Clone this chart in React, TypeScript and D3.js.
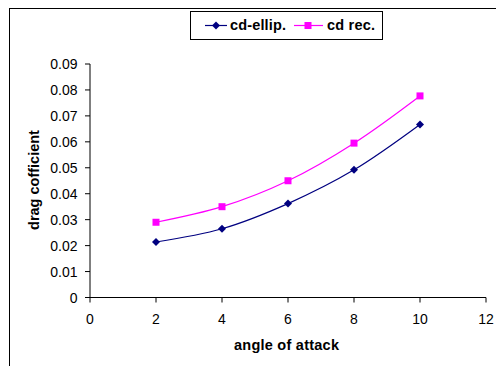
import React from "react";
import * as d3 from "d3";

const angles = [2, 4, 6, 8, 10];
const cdEllip = [0.0214, 0.0265, 0.0362, 0.0492, 0.0667];
const cdRec = [0.029, 0.035, 0.045, 0.0595, 0.0777];
const xTicks = [0, 2, 4, 6, 8, 10, 12];
const yTicks = [0, 0.01, 0.02, 0.03, 0.04, 0.05, 0.06, 0.07, 0.08, 0.09];

export default function App() {
  const W = 496, H = 366;
  const x = d3.scaleLinear().domain([0, 12]).range([90, 486]);
  const y = d3.scaleLinear().domain([0, 0.09]).range([297.5, 64]);
  const line = d3
    .line<[number, number]>()
    .x((d) => x(d[0]))
    .y((d) => y(d[1]))
    .curve(d3.curveCatmullRom.alpha(0.5));
  const eData = angles.map((a, i) => [a, cdEllip[i]] as [number, number]);
  const rData = angles.map((a, i) => [a, cdRec[i]] as [number, number]);
  const font = "Arial, 'Liberation Sans', sans-serif";
  const diamond = (cx: number, cy: number, k: string | number) => (
    <path key={k} d={`M${cx},${cy - 4}L${cx + 4},${cy}L${cx},${cy + 4}L${cx - 4},${cy}Z`} fill="#000080" />
  );
  const square = (cx: number, cy: number, k: string | number) => (
    <rect key={k} x={cx - 3.5} y={cy - 3.5} width={7} height={7} fill="#FF00FF" />
  );
  return (
    <svg width={W} height={H} style={{ position: "absolute", left: 0, top: 0 }} fontFamily={font}>
      <rect x={0} y={0} width={W} height={H} fill="#fff" />
      <line x1={9} y1={8.5} x2={W} y2={8.5} stroke="#000" strokeWidth={1} />
      <line x1={9.5} y1={8} x2={9.5} y2={H} stroke="#000" strokeWidth={1} />
      {/* axes */}
      <line x1={x(0)} y1={y(0.09)} x2={x(0)} y2={y(0)} stroke="#000" />
      <line x1={x(0)} y1={y(0)} x2={x(12)} y2={y(0)} stroke="#000" />
      {yTicks.map((t) => (
        <g key={"y" + t}>
          <line x1={x(0) - 5} x2={x(0)} y1={y(t)} y2={y(t)} stroke="#000" />
          <text x={77.5} y={y(t) + 5} textAnchor="end" fontSize={14} fill="#000">
            {t === 0 ? "0" : t.toFixed(2)}
          </text>
        </g>
      ))}
      {xTicks.map((t) => (
        <g key={"x" + t}>
          <line x1={x(t)} x2={x(t)} y1={y(0)} y2={y(0) + 5} stroke="#000" />
          <text x={x(t)} y={324} textAnchor="middle" fontSize={14} fill="#000">
            {t}
          </text>
        </g>
      ))}
      <text x={234} y={350} fontSize={14.5} fontWeight="bold" textLength={105} lengthAdjust="spacing">
        angle of attack
      </text>
      <text transform="translate(39,180) rotate(-90)" textAnchor="middle" fontSize={14.5} fontWeight="bold">
        drag cofficient
      </text>
      {/* series */}
      <path d={line(rData) || ""} fill="none" stroke="#FF00FF" strokeWidth={1.2} />
      <path d={line(eData) || ""} fill="none" stroke="#000080" strokeWidth={1.2} />
      {rData.map((d, i) => square(x(d[0]), y(d[1]), "r" + i))}
      {eData.map((d, i) => diamond(x(d[0]), y(d[1]), "e" + i))}
      {/* legend */}
      <rect x={190.5} y={11.5} width={192} height={28} fill="#fff" stroke="#000" />
      <line x1={205} x2={227} y1={25.5} y2={25.5} stroke="#000080" strokeWidth={1.2} />
      {diamond(216, 25.5, "ld")}
      <text x={230} y={29.5} fontSize={14.5} fontWeight="bold" textLength={56} lengthAdjust="spacing">cd-ellip.</text>
      <line x1={294} x2={323} y1={25.5} y2={25.5} stroke="#FF00FF" strokeWidth={1.2} />
      {square(308, 25.5, "ls")}
      <text x={327} y={29.5} fontSize={14.5} fontWeight="bold" textLength={48} lengthAdjust="spacing">cd rec.</text>
    </svg>
  );
}
